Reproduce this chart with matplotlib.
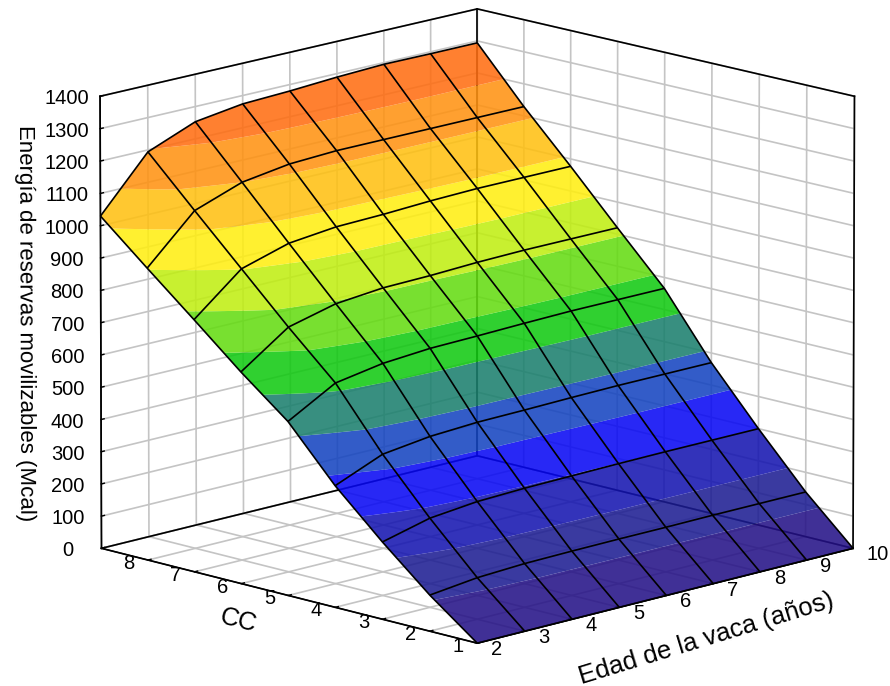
import matplotlib
matplotlib.use("Agg")
import matplotlib.pyplot as plt
from matplotlib.transforms import ScaledTranslation
from mpl_toolkits.mplot3d.art3d import Poly3DCollection
import numpy as np

plt.rcParams['font.family'] = ['Liberation Sans', 'DejaVu Sans']

edad = [2, 3, 4, 5, 6, 7, 8, 9, 10]
cc = [1, 2, 3, 4, 5, 6, 7, 8, 9]
cc_labels = ['1', '2', '3', '4', '5', '6', '7', '8', '']
energia_ticks = [0, 100, 200, 300, 400, 500, 600, 700, 800, 900, 1000, 1100, 1200, 1300, 1400]

# one row per CC, one column per edad
energia = [
    [0, 0, 0, 0, 0, 0, 0, 0, 0],
    [111, 128, 135, 137, 138, 138, 139, 139, 139],
    [238, 275, 290, 295, 297, 299, 300, 300, 300],
    [375, 436, 455, 463, 465, 468, 470, 470, 470],
    [537, 620, 645, 656, 659, 663, 666, 666, 666],
    [654, 757, 794, 808, 811, 817, 820, 820, 820],
    [780, 902, 946, 962, 966, 973, 977, 977, 977],
    [904, 1047, 1100, 1122, 1129, 1129, 1129, 1129, 1129],
    [1030, 1194, 1253, 1274, 1280, 1289, 1295, 1294, 1294],
]

# colour of each 100 Mcal band
bandas = ['#241186', '#1c1c92', '#1414b0', '#0808f4', '#1444c0', '#1a7f6d', '#11c911',
          '#64dc11', '#c0ee11', '#ffee11', '#ffc011', '#ff9211', '#ff6d11', '#ff6d11']
ALFA = 0.87

X, Y = np.meshgrid(edad, cc)
Z = np.array(energia, dtype=float)


def altura(px, py):
    # bilinear height inside a cell of the table
    i = np.clip(np.floor(px - edad[0]).astype(int), 0, len(edad) - 2)
    j = np.clip(np.floor(py - cc[0]).astype(int), 0, len(cc) - 2)
    u = px - edad[0] - i
    v = py - cc[0] - j
    return (Z[j, i] * (1 - u) * (1 - v) + Z[j, i + 1] * u * (1 - v)
            + Z[j + 1, i] * (1 - u) * v + Z[j + 1, i + 1] * u * v)


# fine grid only to cut the colour bands inside each cell
n = 12
fx = np.linspace(edad[0], edad[-1], (len(edad) - 1) * n + 1)
fy = np.linspace(cc[0], cc[-1], (len(cc) - 1) * n + 1)
Xf, Yf = np.meshgrid(fx, fy)
Zf = altura(Xf, Yf)

fig_aux, ax_aux = plt.subplots()
cortes = ax_aux.contourf(Xf, Yf, Zf, levels=energia_ticks)
trozos = [p.to_polygons(closed_only=True) for p in cortes.get_paths()]
plt.close(fig_aux)

fig = plt.figure(figsize=(8.9, 6.86), dpi=100)
ax = fig.add_axes([23 / 890, 11 / 686, 1, 1], projection='3d')
ax.computed_zorder = False
ax.set_proj_type('persp', focal_length=8)
ax.view_init(elev=14, azim=-135)
ax.set_box_aspect((1, 1, 0.875), zoom=1.253)

for color, polis in zip(bandas, trozos):
    if len(polis) == 0:
        continue
    verts = [np.column_stack([p[:, 0], p[:, 1], altura(p[:, 0], p[:, 1])]) for p in polis]
    franja = Poly3DCollection(verts, facecolors=[matplotlib.colors.to_rgba(color, ALFA)],
                              edgecolors='none', linewidths=0, zorder=1)
    franja.set_clip_on(False)
    ax.add_collection3d(franja, autolim=False)

malla = ax.plot_wireframe(X, Y, Z, color='k', linewidth=1.2, zorder=2)
malla.set_clip_on(False)

ax.set_xlim(2, 10, view_margin=0)
ax.set_ylim(1, 9, view_margin=0)
ax.set_zlim(0, 1400, view_margin=0)
ax.set_xticks(edad)
ax.set_yticks(cc)
ax.set_yticklabels(cc_labels)
ax.set_zticks(energia_ticks)

for eje in (ax.xaxis, ax.yaxis, ax.zaxis):
    eje.set_pane_color((1, 1, 1, 1))
    eje.pane.set_edgecolor('none')
    eje.line.set_color('k')
    eje._axinfo['grid'].update(color='#c4c4c4', linewidth=1.2)
    eje._axinfo['tick'].update(inward_factor=0, outward_factor=0.1, linewidth={True: 1, False: 1})

# black frame of the box, over the end grid lines
x0, x1, y0, y1 = edad[0], edad[-1], cc[0], cc[-1]
z0, z1 = energia_ticks[0], energia_ticks[-1]
marco = [
    ([x0, x1, x1], [y1, y1, y0], [z0, z0, z0]),
    ([x0, x1, x1], [y1, y1, y0], [z1, z1, z1]),
    ([x0, x0, x1], [y1, y0, y0], [z0, z0, z0]),
    ([x0, x0], [y1, y1], [z0, z1]),
    ([x1, x1], [y1, y1], [z0, z1]),
    ([x1, x1], [y0, y0], [z0, z1]),
]
for mx, my, mz in marco:
    ax.plot(mx, my, mz, color='k', linewidth=1.2, zorder=0, clip_on=False)

ax.tick_params(axis='both', labelsize=14.5, pad=0)
ax.set_xlabel('Edad de la vaca (años)', fontsize=18.5, labelpad=8, rotation=17)
ax.xaxis.set_rotate_label(False)
ax.set_ylabel('CC', fontsize=18.5, labelpad=8)
ax.yaxis.set_rotate_label(True)
ax.set_zlabel('Energía de reservas movilizables (Mcal)', fontsize=16, labelpad=5)


def correr(eje, dx, dy):
    # axis3d resets the tick label transform on every draw, so block that
    tr = ax.transData + ScaledTranslation(dx / 100, dy / 100, fig.dpi_scale_trans)
    for t in eje.get_major_ticks():
        t.label1.set_transform(tr)
        t.label1.set_transform = lambda _: None


for lab in ax.xaxis.get_ticklabels():
    lab.set_ha('left')
correr(ax.xaxis, 2, 20)
correr(ax.yaxis, -7, 23)
correr(ax.zaxis, -10, 7)

# same for the axis titles, draw() writes _transform directly
tr_x = ax.transData + ScaledTranslation(-0.03, 0.19, fig.dpi_scale_trans)
tr_y = ax.transData + ScaledTranslation(-0.07, 0.37, fig.dpi_scale_trans)
ax.xaxis.label.get_transform = lambda: tr_x
ax.yaxis.label.get_transform = lambda: tr_y

fig.savefig('out.png', dpi=100)
